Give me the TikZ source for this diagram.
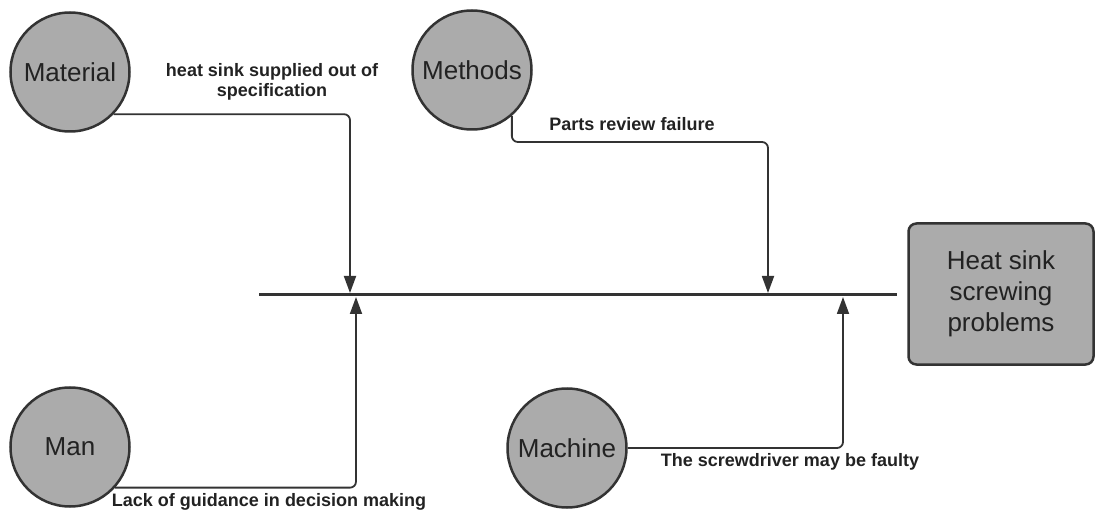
\documentclass[tikz,border=0pt]{standalone}
\usepackage{fontspec}
\setmainfont{Liberation Sans}
\usetikzlibrary{arrows.meta,calc}
\definecolor{edge}{HTML}{333333}
\definecolor{shade}{HTML}{ABABAB}
\definecolor{ink}{HTML}{222222}
\begin{document}
\begin{tikzpicture}[x=1pt,y=-1pt,
  cause/.style={circle,draw=edge,line width=2.5pt,fill=shade,minimum size=119pt,inner sep=0pt,
    font=\fontsize{26}{30}\selectfont,text=ink},
  effect/.style={rectangle,rounded corners=8pt,draw=edge,line width=2.5pt,fill=shade,
    minimum width=185pt,minimum height=141pt,align=center,
    font=\fontsize{26}{31}\selectfont,text=ink},
  conn/.style={draw=edge,line width=1.8pt,rounded corners=6pt,
    -{Triangle[length=17pt,width=12pt]}},
  lab/.style={font=\fontsize{18}{20}\selectfont\bfseries,text=ink,align=center,inner sep=0pt},
  spine/.style={draw=edge,line width=3pt}]
\useasboundingbox (0,0) rectangle (1096,513);
% spine
\coordinate (L) at (259,295);
\coordinate (R) at (897,295);
\draw[spine] (L) -- (R);
\coordinate (s1) at (350,293);
\coordinate (s2) at (768,293);
\coordinate (s3) at (356,297);
\coordinate (s4) at (843,297);
% causes
\node[cause] (mat) at (70,72) {Material};
\node[cause] (meth) at (472,70) {Methods};
\node[cause] (man) at (70,447) {Man};
\node[cause] (mach) at (567,448) {Machine};
% effect
\node[effect] (eff) at (1001,294) {Heat sink\\screwing\\problems};
% connectors
\draw[conn] (mat.-44) -| (s1);
\draw[conn] (meth.-49) |- ($(s2)+(0,-151)$) -- (s2);
\draw[conn] (man.-42) -| (s3);
\draw[conn] (mach.east) -| (s4);
% labels
\node[lab] (l1) at (272,82) {heat sink supplied out of\\specification};
\node[lab] (l2) at (632,124) {Parts review failure};
\node[lab] (l3) at (269,502) {Lack of guidance in decision making};
\node[lab] (l4) at (790,462) {The screwdriver may be faulty};
\end{tikzpicture}
\end{document}
